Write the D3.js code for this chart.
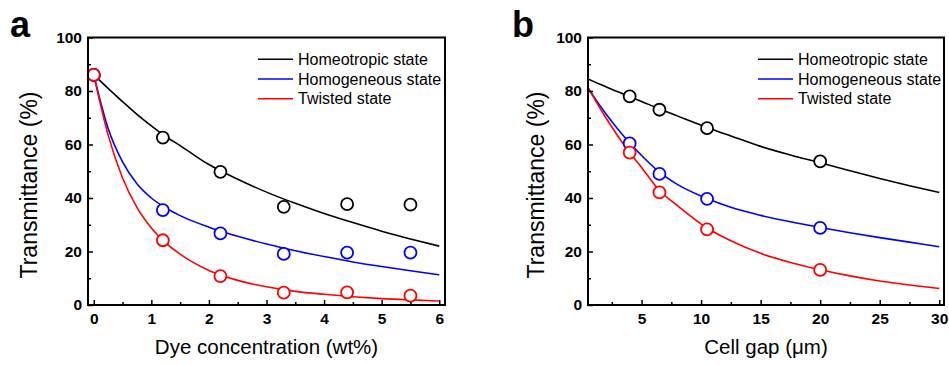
<!DOCTYPE html>
<html>
<head>
<meta charset="utf-8">
<script src="https://cdn.jsdelivr.net/npm/d3@7"></script>
<style>
  body { margin: 0; background: #fff; }
  svg { display: block; font-family: "Liberation Sans", Arial, sans-serif; }
</style>
</head>
<body>
<svg id="chart" width="949" height="365"></svg>
<script>
// ---- data ----
const seriesNames = ["Homeotropic state", "Homogeneous state", "Twisted state"];
const seriesColors = ["#000000", "#0000ff", "#ff0000"];

// panel a : dye concentration
const dyeConc = [0, 1.2, 2.2, 3.3, 4.4, 5.5];
const dyeHomeotropic = [86, 62.6, 49.8, 36.7, 37.7, 37.5];
const dyeHomogeneous = [86, 35.5, 26.8, 19.1, 19.6, 19.6];
const dyeTwisted = [86, 24.2, 10.8, 4.6, 4.7, 3.5];

const dyeFitX = [0, 0.25, 0.5, 0.75, 1, 1.25, 1.5, 2, 2.5, 3, 3.5, 4, 4.5, 5, 5.5, 6];
const dyeFitHomeotropic = [86, 81, 76, 71.3, 67, 63, 59.6, 52.5, 47, 42.2, 38, 34.2, 30.8, 27.6, 24.7, 22];
const dyeFitHomogeneous = [86, 66, 53.5, 45.3, 40, 36.3, 33.4, 29.1, 25.7, 22.8, 20.3, 18.1, 16.1, 14.4, 12.8, 11.3];
const dyeFitTwisted = [86, 63.5, 47.5, 36.5, 28.8, 23.2, 19.0, 12.9, 9.2, 6.8, 5.1, 4.0, 3.1, 2.4, 1.9, 1.5];

const dyeTicks = [0, 1, 2, 3, 4, 5, 6];

// panel b : cell gap
const gap = [4, 6.5, 10.5, 20];
const gapHomeotropic = [78.0, 73.0, 66.1, 53.7];
const gapHomogeneous = [60.4, 49.0, 39.7, 28.8];
const gapTwisted = [57.0, 42.1, 28.3, 13.1];

const gapFitX = [0.5, 1, 2, 3, 4, 5, 6.5, 8, 10.5, 12.5, 15, 17.5, 20, 22.5, 25, 27.5, 30];
const gapFitHomeotropic = [84.5, 83.5, 81.6, 79.7, 77.9, 76.1, 73.3, 70.7, 66.4, 63.2, 59.3, 56.1, 53.2, 50.2, 47.3, 44.6, 42.1];
const gapFitHomogeneous = [81.2, 77.8, 71.5, 65.8, 60.6, 55.9, 49.7, 45.1, 39.8, 36.5, 33.5, 31.1, 29.0, 27.0, 25.2, 23.5, 21.8];
const gapFitTwisted = [81.2, 77.4, 70.0, 63.2, 57.0, 51.4, 42.8, 37.2, 28.8, 24.0, 19.3, 15.9, 13.2, 10.9, 9.0, 7.5, 6.2];

const gapTicks = [5, 10, 15, 20, 25, 30];
const yTicks = [0, 20, 40, 60, 80, 100];

const svg = d3.select("#chart");

function drawPanel(opt) {
  const g = svg.append("g");
  const x = d3.scaleLinear().domain(opt.xDomain).range([opt.left, opt.right]);
  const y = d3.scaleLinear().domain([0, 100]).range([305, 37.5]);

  // fitted curves
  const line = d3.line()
    .x(d => x(d[0])).y(d => y(d[1]))
    .curve(d3.curveMonotoneX);
  opt.fits.forEach((f, i) => {
    g.append("path")
      .datum(opt.fitX.map((v, j) => [v, f[j]]))
      .attr("d", line)
      .attr("fill", "none")
      .attr("stroke", seriesColors[i])
      .attr("stroke-width", 1.6);
  });

  // measured points
  opt.points.forEach((p, i) => {
    g.selectAll(null)
      .data(opt.px.map((v, j) => [v, p[j]]))
      .enter().append("circle")
      .attr("cx", d => x(d[0]))
      .attr("cy", d => y(d[1]))
      .attr("r", 6)
      .attr("fill", "#fff")
      .attr("stroke", seriesColors[i])
      .attr("stroke-width", 1.8);
  });

  // axes: inward ticks
  const xAxis = d3.axisBottom(x).tickValues(opt.xTicks).tickSize(-5).tickPadding(8)
    .tickFormat(d3.format("d"));
  const xMinor = d3.axisBottom(x).tickValues(opt.xMinor).tickSize(-3).tickFormat("");
  const yAxis = d3.axisLeft(y).tickValues(yTicks).tickSize(-5).tickPadding(6);
  const yMinor = d3.axisLeft(y).tickValues([10, 30, 50, 70, 90]).tickSize(-3).tickFormat("");

  [xAxis, xMinor].forEach(a => {
    g.append("g").attr("transform", "translate(0,305)").call(a)
      .call(s => s.select(".domain").remove());
  });
  [yAxis, yMinor].forEach(a => {
    g.append("g").attr("transform", "translate(" + opt.left + ",0)").call(a)
      .call(s => s.select(".domain").remove());
  });
  g.selectAll(".tick line").attr("stroke", "#000").attr("stroke-width", 1.5);
  g.selectAll(".tick text")
    .attr("font-size", "15.5px")
    .attr("font-weight", "bold")
    .attr("fill", "#000")
    .attr("font-family", "'Liberation Sans', Arial, sans-serif");

  // frame
  g.append("rect")
    .attr("x", opt.left).attr("y", 37.5)
    .attr("width", opt.right - opt.left).attr("height", 305 - 37.5)
    .attr("fill", "none").attr("stroke", "#000").attr("stroke-width", 2);

  // legend
  seriesNames.forEach((name, i) => {
    const ly = 59.3 + i * 19.7;
    g.append("line")
      .attr("x1", opt.legendX).attr("x2", opt.legendX + 35)
      .attr("y1", ly).attr("y2", ly)
      .attr("stroke", seriesColors[i]).attr("stroke-width", 1.6);
    g.append("text")
      .attr("x", opt.legendX + 40).attr("y", ly + 5.6)
      .attr("font-size", "16px")
      .text(name);
  });

  // axis titles
  g.append("text")
    .attr("x", (opt.left + opt.right) / 2).attr("y", 354)
    .attr("text-anchor", "middle")
    .attr("font-size", "20.5px")
    .text(opt.xTitle);
  g.append("text")
    .attr("transform", "translate(" + opt.yTitleX + ",185) rotate(-90)")
    .attr("text-anchor", "middle")
    .attr("font-size", "23px")
    .text("Transmittance (%)");

  // panel letter
  g.append("text")
    .attr("x", opt.letterX).attr("y", 37)
    .attr("font-size", "36px").attr("font-weight", "bold")
    .text(opt.letter);
}

drawPanel({
  letter: "a", letterX: 10,
  left: 88, right: 445, xDomain: [-0.1, 6.1],
  xTicks: dyeTicks, xMinor: [0.5, 1.5, 2.5, 3.5, 4.5, 5.5],
  fitX: dyeFitX, fits: [dyeFitHomeotropic, dyeFitHomogeneous, dyeFitTwisted],
  px: dyeConc, points: [dyeHomeotropic, dyeHomogeneous, dyeTwisted],
  legendX: 258, xTitle: "Dye concentration (wt%)", yTitleX: 37
});

drawPanel({
  letter: "b", letterX: 512,
  left: 588, right: 944, xDomain: [0.5, 30.4],
  xTicks: gapTicks, xMinor: [2.5, 7.5, 12.5, 17.5, 22.5, 27.5],
  fitX: gapFitX, fits: [gapFitHomeotropic, gapFitHomogeneous, gapFitTwisted],
  px: gap, points: [gapHomeotropic, gapHomogeneous, gapTwisted],
  legendX: 758, xTitle: "Cell gap (\u03bcm)", yTitleX: 544
});
</script>
</body>
</html>
